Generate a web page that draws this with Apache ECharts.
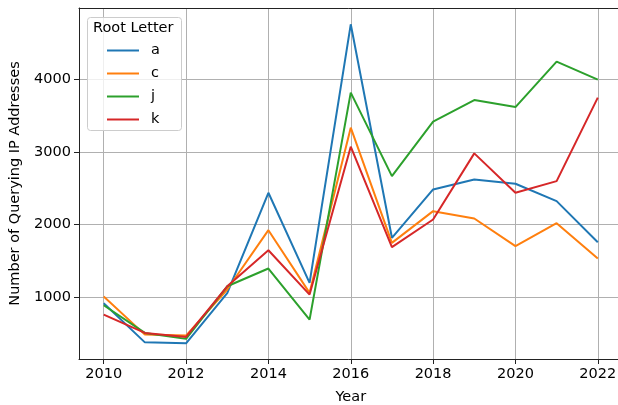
<!DOCTYPE html>
<html>
<head>
<meta charset="utf-8">
<script src="https://cdn.jsdelivr.net/npm/echarts@6/dist/echarts.min.js"></script>
<style>html,body{margin:0;padding:0;background:#fff;overflow:hidden}#c{width:618px;height:405px}</style>
</head>
<body>
<div id="c"></div>
<script>
const years = [2010,2011,2012,2013,2014,2015,2016,2017,2018,2019,2020,2021,2022];
const seriesNames = ['a','c','j','k'];
const aVals = [910,370,357,1050,2437,1192,4765,1815,2483,2620,2561,2321,1754];
const cVals = [1005,477,463,1100,1920,1054,3336,1745,2183,2082,1699,2017,1528];
const jVals = [883,500,418,1145,1390,685,3820,2667,3419,3718,3621,4249,4000];
const kVals = [754,500,445,1145,1643,1030,3073,1685,2068,2981,2437,2598,3751];
const xTicks = [2010,2012,2014,2016,2018,2020,2022];
const yTicks = [1000,2000,3000,4000];
const colors = ['#1f77b4','#ff7f0e','#2ca02c','#d62728'];
const allVals = [aVals,cVals,jVals,kVals];

const font = 'DejaVu Sans';
const fs = 14.5;
const chart = echarts.init(document.getElementById('c'), null, {renderer:'canvas'});
chart.setOption({
  animation:false,
  grid:{left:79, top:8, width:543.5, height:351, show:false,
        outerBoundsMode:'none', containLabel:false},
  xAxis:[{
    type:'value', min:2009.4, max:2022.6,
    name:'Year', nameLocation:'middle', nameGap:31,
    nameTextStyle:{fontFamily:font, fontSize:fs, color:'#000'},
    axisLine:{show:true, lineStyle:{color:'#222', width:1}},
    axisTick:{show:true, length:5, lineStyle:{color:'#222'}, customValues:xTicks},
    axisLabel:{customValues:xTicks, fontFamily:font, fontSize:fs, color:'#000', margin:8,
               formatter:v=>String(v)},
    splitLine:{show:true, lineStyle:{color:'#b0b0b0', width:1}}
  },{
    type:'value', position:'top', min:2009.4, max:2022.6,
    axisLine:{show:true, onZero:false, lineStyle:{color:'#222', width:1}},
    axisTick:{show:false}, axisLabel:{show:false}, splitLine:{show:false}
  }],
  yAxis:{
    type:'value', min:140, max:4990,
    name:'Number of Querying IP Addresses', nameLocation:'middle', nameGap:56, nameRotate:90,
    nameTextStyle:{fontFamily:font, fontSize:fs, color:'#000'},
    axisLine:{show:true, lineStyle:{color:'#222', width:1}},
    axisTick:{show:true, length:5, lineStyle:{color:'#222'}, customValues:yTicks},
    axisLabel:{customValues:yTicks, fontFamily:font, fontSize:fs, color:'#000', margin:8,
               formatter:v=>String(v)},
    splitLine:{show:true, lineStyle:{color:'#b0b0b0', width:1}}
  },
  legend:{
    orient:'vertical', left:107, top:43, padding:0, z:20, itemWidth:32, itemHeight:2, itemGap:8,
    icon:'rect',
    textStyle:{fontFamily:font, fontSize:fs, color:'#000', padding:[0,0,0,7]},
    data:seriesNames
  },
  graphic:[
    {type:'rect', left:87, top:17, z:1, shape:{width:94, height:113, r:3},
     style:{fill:'rgba(255,255,255,0.8)', stroke:'#cccccc', lineWidth:1}},
    {type:'text', left:93, top:21, z:2, style:{text:'Root Letter', font:'14.5px "DejaVu Sans"', fill:'#000'}}
  ],
  series: seriesNames.map((n,i)=>({
    name:n, type:'line', showSymbol:false, symbol:'none', z:3,
    lineStyle:{width:2, color:colors[i]}, itemStyle:{color:colors[i]},
    data: years.map((y,j)=>[y, allVals[i][j]])
  }))
});
</script>
</body>
</html>
